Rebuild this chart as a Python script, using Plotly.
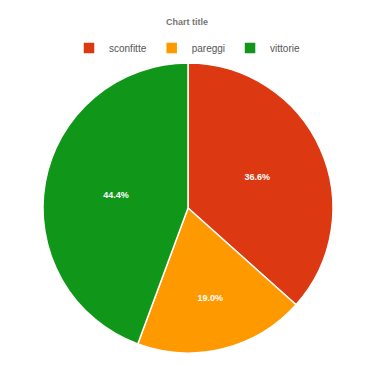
import plotly.graph_objects as go

labels = ["sconfitte", "pareggi", "vittorie"]
values = [52, 27, 63]
colors = ["#DC3912", "#FF9900", "#109618"]

W, H = 375, 366
OFF = 8  # page body margin
cx, cy, r = 188 - OFF, 208 - OFF, 145

fig = go.Figure(go.Pie(
    labels=labels,
    values=values,
    sort=False,
    direction="clockwise",
    rotation=0,
    marker=dict(colors=colors, line=dict(color="white", width=1.5)),
    texttemplate="<b>%{percent:.1%}</b>",
    textposition="inside",
    insidetextorientation="horizontal",
    textfont=dict(color="white", size=9, family="Liberation Sans, Arial, sans-serif"),
    domain=dict(x=[(cx - r) / W, (cx + r) / W], y=[1 - (cy + r) / H, 1 - (cy - r) / H]),
    hoverinfo="label+percent",
))

fig.update_layout(
    width=W, height=H,
    margin=dict(l=0, r=0, t=0, b=0),
    paper_bgcolor="white",
    plot_bgcolor="white",
    font=dict(family="Liberation Sans, Arial, sans-serif"),
    title=dict(text="<b>Chart title</b>", x=(187 - OFF) / W, xanchor="center", y=1 - (22 - OFF) / H, yanchor="middle",
               font=dict(size=9, color="#757575")),
    legend=dict(orientation="h", x=(187 - OFF) / W, xanchor="center", y=1 - (48 - OFF) / H, yanchor="middle",
                font=dict(size=10, color="#555555"), itemwidth=30, traceorder="normal"),
)

fig.write_html("out.html")
